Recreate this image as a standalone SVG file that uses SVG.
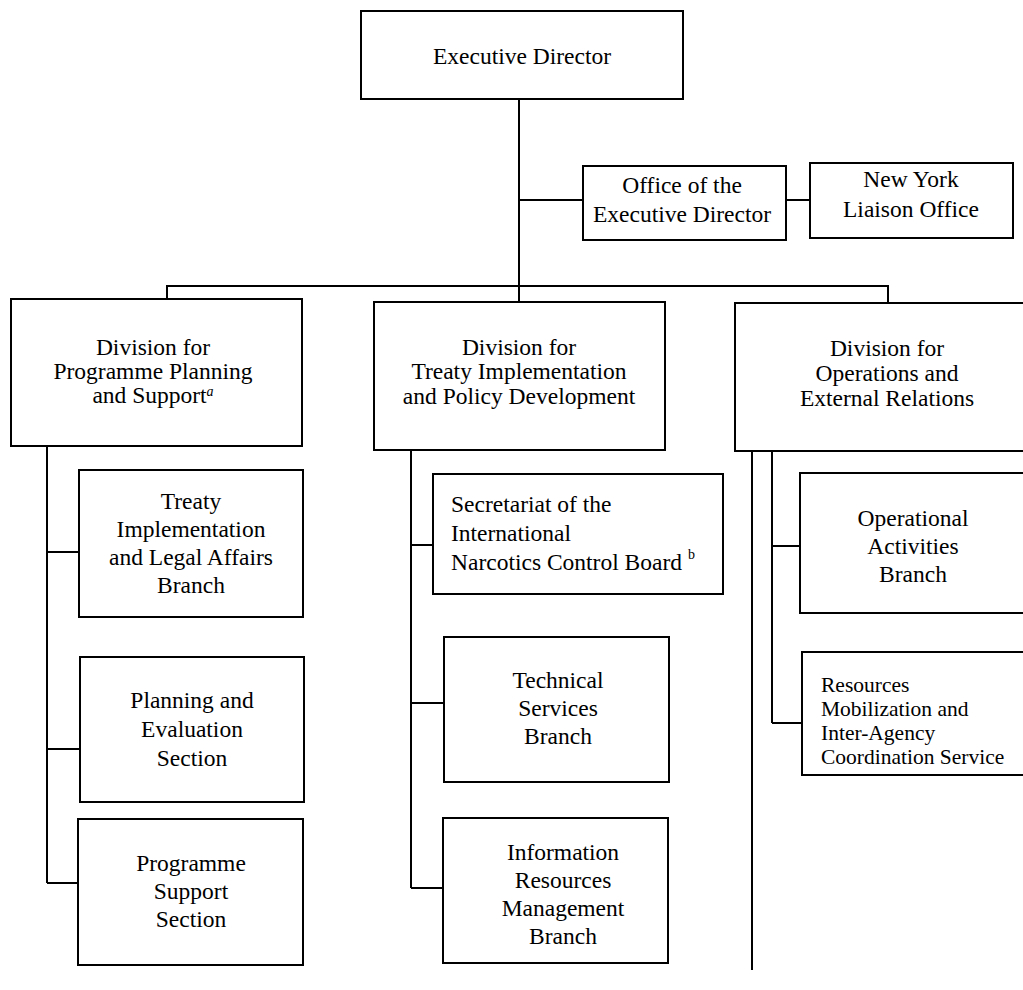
<svg xmlns="http://www.w3.org/2000/svg" width="1023" height="990" viewBox="0 0 1023 990">
<style>
.box{fill:#fff;stroke:#000;stroke-width:2}
.ln{fill:none;stroke:#000;stroke-width:2}
text{font-family:"Liberation Serif","Times New Roman",serif;font-size:23.5px;fill:#000}
.c{text-anchor:middle}
.sm{font-size:21.5px}
.sup{font-size:14px}
</style>
<rect width="1023" height="990" fill="#fff"/>
<g id="connectors">
<path class="ln" d="M519 99V302"/>
<path class="ln" d="M519 200H583M786 200H810"/>
<path class="ln" d="M167 299V286H888V303"/>
<path class="ln" d="M47 446V883M47 552H79M47 749H80M47 883H78"/>
<path class="ln" d="M411 450V888M411 545H433M411 703H444M411 888H443"/>
<path class="ln" d="M752 451V970M772 451V723M772 546H800M772 723H802"/>
</g>
<g id="executive-director">
<rect class="box" x="361" y="11" width="322" height="88"/>
<text class="c" x="522" y="64">Executive Director</text>
</g>
<g id="office-executive-director">
<rect class="box" x="583" y="166" width="203" height="74"/>
<text class="c" x="682" y="193">Office of the</text>
<text class="c" x="682" y="222">Executive Director</text>
</g>
<g id="new-york-liaison">
<rect class="box" x="810" y="163" width="203" height="75"/>
<text class="c" x="911" y="187">New York</text>
<text class="c" x="911" y="217">Liaison Office</text>
</g>
<g id="div-programme-planning">
<rect class="box" x="11" y="299" width="291" height="147"/>
<text class="c" x="153" y="355">Division for</text>
<text class="c" x="153" y="379">Programme Planning</text>
<text class="c" x="153" y="403">and Support<tspan class="sup" font-style="italic" dy="-7">a</tspan></text>
</g>
<g id="div-treaty-implementation">
<rect class="box" x="374" y="302" width="291" height="148"/>
<text class="c" x="519" y="355">Division for</text>
<text class="c" x="519" y="379">Treaty Implementation</text>
<text class="c" x="519" y="404">and Policy Development</text>
</g>
<g id="div-operations">
<rect class="box" x="735" y="303" width="305" height="148"/>
<text class="c" x="887" y="356">Division for</text>
<text class="c" x="887" y="381">Operations and</text>
<text class="c" x="887" y="406">External Relations</text>
</g>
<g id="treaty-legal-affairs">
<rect class="box" x="79" y="470" width="224" height="147"/>
<text class="c" x="191" y="509">Treaty</text>
<text class="c" x="191" y="537">Implementation</text>
<text class="c" x="191" y="565">and Legal Affairs</text>
<text class="c" x="191" y="593">Branch</text>
</g>
<g id="planning-evaluation">
<rect class="box" x="80" y="657" width="224" height="145"/>
<text class="c" x="192" y="708">Planning and</text>
<text class="c" x="192" y="737">Evaluation</text>
<text class="c" x="192" y="766">Section</text>
</g>
<g id="programme-support">
<rect class="box" x="78" y="819" width="225" height="146"/>
<text class="c" x="191" y="871">Programme</text>
<text class="c" x="191" y="899">Support</text>
<text class="c" x="191" y="927">Section</text>
</g>
<g id="incb-secretariat">
<rect class="box" x="433" y="474" width="290" height="120"/>
<text x="451" y="512">Secretariat of the</text>
<text x="451" y="541">International</text>
<text x="451" y="570">Narcotics Control Board <tspan class="sup" dy="-11">b</tspan></text>
</g>
<g id="technical-services">
<rect class="box" x="444" y="637" width="225" height="145"/>
<text class="c" x="558" y="688">Technical</text>
<text class="c" x="558" y="716">Services</text>
<text class="c" x="558" y="744">Branch</text>
</g>
<g id="information-resources">
<rect class="box" x="443" y="818" width="225" height="145"/>
<text class="c" x="563" y="860">Information</text>
<text class="c" x="563" y="888">Resources</text>
<text class="c" x="563" y="916">Management</text>
<text class="c" x="563" y="944">Branch</text>
</g>
<g id="operational-activities">
<rect class="box" x="800" y="473" width="240" height="140"/>
<text class="c" x="913" y="526">Operational</text>
<text class="c" x="913" y="554">Activities</text>
<text class="c" x="913" y="582">Branch</text>
</g>
<g id="resources-mobilization">
<rect class="box" x="802" y="652" width="240" height="123"/>
<text class="sm" x="821" y="692">Resources</text>
<text class="sm" x="821" y="716">Mobilization and</text>
<text class="sm" x="821" y="740">Inter-Agency</text>
<text class="sm" x="821" y="764">Coordination Service</text>
</g>
</svg>
